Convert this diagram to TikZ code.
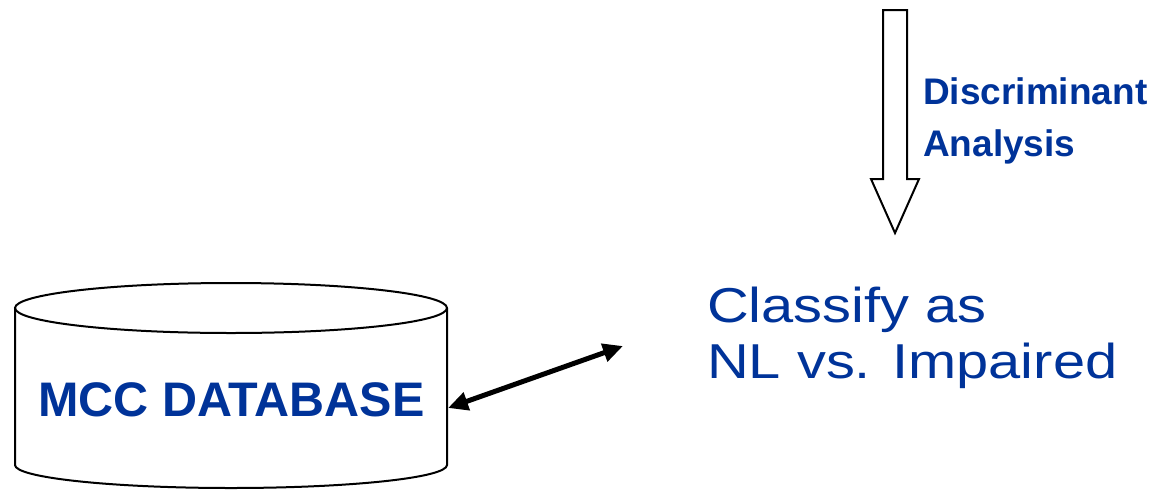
\documentclass[tikz,border=0pt]{standalone}
\usepackage{fontspec}
\setmainfont{Liberation Sans}
\newfontfamily\widefont[FakeStretch=1.18]{Liberation Sans}
\usetikzlibrary{arrows.meta}
\definecolor{txtblue}{RGB}{0,51,153}
\tikzset{
  outline/.style={draw=black, line width=2pt, line join=miter},
  boldlabel/.style={text=txtblue, inner sep=0pt, font=\bfseries\fontsize{37}{44}\selectfont},
  biglabel/.style={text=txtblue, inner sep=0pt, font=\widefont\fontsize{49}{58}\selectfont},
  dblabel/.style={text=txtblue, inner sep=0pt, font=\bfseries\fontsize{48.5}{56}\selectfont},
  link/.style={line width=5pt, {Triangle[length=20pt,width=18pt]}-{Triangle[length=20pt,width=18pt]}}
}
\begin{document}
\begin{tikzpicture}[x=1pt,y=-1pt]
\useasboundingbox (0,0) rectangle (1155,490);
% cylinder (database)
\draw[outline, fill=white] (15,308) -- (15,465)
  arc[start angle=180, end angle=0, x radius=216, y radius=23] -- (447,308);
\draw[outline] (231,308) ellipse [x radius=216, y radius=25];
\node[dblabel, anchor=base] (db) at (231.5,416) {MCC DATABASE};
% block arrow
\draw[outline] (883,10) -- (907,10) -- (907,179) -- (919,179) -- (895,233)
  -- (871,179) -- (883,179) -- cycle;
\node[boldlabel, anchor=base west] (disc1) at (923,104.5) {Discriminant};
\node[boldlabel, anchor=base west] (disc2) at (923,156) {Analysis};
% classify text
\node[biglabel, anchor=base west] (cls1) at (707,322) {Classify as};
\node[biglabel, anchor=base west] (cls2) at (707,378) {NL vs. Impaired};
% double arrow
\coordinate (dbr) at (448,408);
\coordinate (clsp) at (623,346);
\draw[link] (dbr) -- (clsp);
\end{tikzpicture}
\end{document}
